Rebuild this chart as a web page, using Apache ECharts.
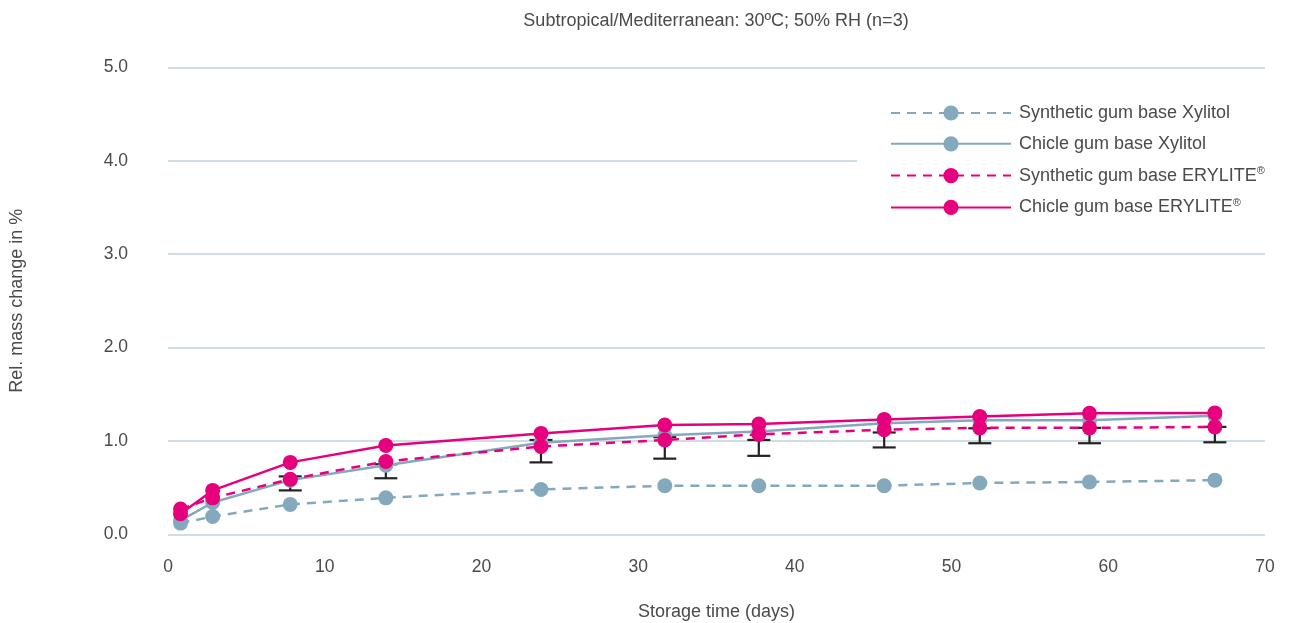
<!DOCTYPE html>
<html>
<head>
<meta charset="utf-8">
<script src="https://cdn.jsdelivr.net/npm/echarts@6/dist/echarts.min.js"></script>
<style>
html,body{margin:0;padding:0;background:#fff;}
#chart{width:1290px;height:623px;}
</style>
</head>
<body>
<div id="chart"></div>
<script>
// Storage time (days)
const days = [0.8, 2.85, 7.8, 13.9, 23.8, 31.7, 37.7, 45.7, 51.8, 58.8, 66.8];
const synthXylitol = [0.12, 0.19, 0.32, 0.39, 0.48, 0.52, 0.52, 0.52, 0.55, 0.56, 0.58];
const chicleXylitol = [0.15, 0.34, 0.58, 0.74, 0.98, 1.06, 1.10, 1.19, 1.22, 1.22, 1.27];
const synthErylite = [0.27, 0.39, 0.59, 0.78, 0.94, 1.01, 1.07, 1.12, 1.14, 1.14, 1.15];
const chicleErylite = [0.22, 0.47, 0.77, 0.95, 1.08, 1.17, 1.18, 1.23, 1.26, 1.295, 1.30];
// error bars (low / high), from day index 2 on
const errDays = [7.8, 13.9, 23.8, 31.7, 37.7, 45.7, 51.8, 58.8, 66.8];
const errLow = [0.47, 0.60, 0.77, 0.81, 0.84, 0.93, 0.975, 0.975, 0.985];
const errHigh = [0.62, 0.75, 1.01, 1.04, 1.01, 1.09, 1.135, 1.14, 1.15];
const yTicks = ['0.0','1.0','2.0','3.0','4.0','5.0'];
const seriesNames = ['Synthetic gum base Xylitol','Chicle gum base Xylitol','Synthetic gum base ERYLITE®','Chicle gum base ERYLITE®'];

const BLUE = '#84a9bd';
const PINK = '#e6007e';
const FONT = 'Liberation Sans, Arial, sans-serif';
const TXT = '#4a4a4a';

function pairs(xs, ys){ return xs.map((x,i)=>[x, ys[i]]); }

function lineSeries(name, data, color, dashed, z){
  return {
    name: name, type: 'line', data: pairs(days, data),
    symbol: 'circle', symbolSize: 15, z: z,
    lineStyle: {color: color, width: 2.5, type: dashed ? [9,7] : 'solid'},
    itemStyle: {color: color},
    emphasis: {disabled: true}
  };
}

const chart = echarts.init(document.getElementById('chart'));
chart.setOption({
  animation: false,
  backgroundColor: '#fff',
  title: {
    text: 'Subtropical/Mediterranean: 30ºC; 50% RH (n=3)',
    left: 711, top: 7, textAlign: 'center',
    textStyle: {fontFamily: FONT, fontSize: 18, fontWeight: 'normal', color: TXT}
  },
  grid: {left: 168, right: 25, top: 67.3, bottom: 88.7, outerBoundsMode: 'none'},
  legend: {
    data: seriesNames,
    orient: 'vertical',
    left: 857, top: 94,
    padding: [10, 60, 10, 33],
    backgroundColor: '#fff',
    itemWidth: 120, itemHeight: 19, itemGap: 12.8,
    textStyle: {fontFamily: FONT, fontSize: 18, color: TXT, padding: [0,0,0,3],
      rich: {sup: {fontFamily: FONT, fontSize: 11, color: TXT, verticalAlign: 'top', padding: [0,0,9,0]}}},
    formatter: function(n){ return n.replace('®', '{sup|®}'); },
    z: 10
  },
  xAxis: {
    type: 'value', min: 0, max: 70, interval: 10,
    name: 'Storage time (days)', nameLocation: 'middle', nameGap: 69,
    nameTextStyle: {fontFamily: FONT, fontSize: 18, color: TXT},
    axisLine: {show: false}, axisTick: {show: false}, splitLine: {show: false},
    axisLabel: {fontFamily: FONT, fontSize: 17.5, color: TXT, margin: 24}
  },
  yAxis: {
    type: 'value', min: 0, max: 5, interval: 1,
    name: 'Rel. mass change in %', nameLocation: 'middle', nameGap: 142, nameRotate: 90,
    nameTextStyle: {fontFamily: FONT, fontSize: 18, color: TXT},
    axisLine: {show: false}, axisTick: {show: false},
    splitLine: {lineStyle: {color: '#bfd2dc', width: 1.5}},
    axisLabel: {fontFamily: FONT, fontSize: 17.5, color: TXT, margin: 40, padding: [3,0,0,0],
      formatter: function(v){ return yTicks[Math.round(v)]; }}
  },
  series: [
    {
      type: 'custom', name: 'err', z: 1, silent: true,
      data: errDays.map((d,i)=>[d, errLow[i], errHigh[i]]),
      renderItem: function(params, api){
        const x = api.value(0);
        const lo = api.coord([x, api.value(1)]);
        const hi = api.coord([x, api.value(2)]);
        const w = 11.5;
        const st = {stroke: '#222', lineWidth: 2.2};
        return {type: 'group', children: [
          {type: 'line', shape: {x1: lo[0], y1: lo[1], x2: hi[0], y2: hi[1]}, style: st},
          {type: 'line', shape: {x1: lo[0]-w, y1: lo[1], x2: lo[0]+w, y2: lo[1]}, style: st},
          {type: 'line', shape: {x1: hi[0]-w, y1: hi[1], x2: hi[0]+w, y2: hi[1]}, style: st}
        ]};
      }
    },
    lineSeries(seriesNames[0], synthXylitol, BLUE, true, 2),
    lineSeries(seriesNames[1], chicleXylitol, BLUE, false, 3),
    lineSeries(seriesNames[2], synthErylite, PINK, true, 4),
    lineSeries(seriesNames[3], chicleErylite, PINK, false, 5)
  ]
});
</script>
</body>
</html>
